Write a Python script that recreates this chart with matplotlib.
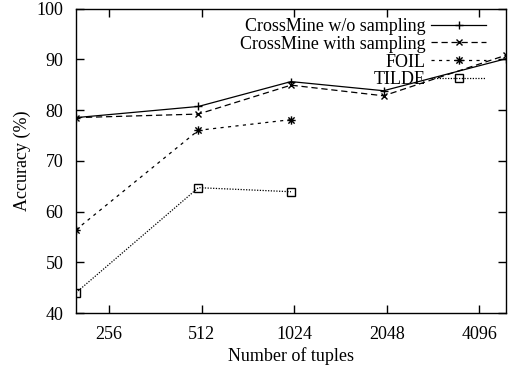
import matplotlib
matplotlib.use('Agg')
import matplotlib.pyplot as plt
from matplotlib.path import Path
from matplotlib.ticker import FixedLocator, FixedFormatter, NullLocator

tuples = [200, 500, 1000, 2000, 5000]
crossmine_plain = [78.5, 80.7, 85.6, 83.8, 90.1]
crossmine_sampled = [78.5, 79.2, 84.9, 82.8, 90.8]
foil_tuples = [200, 500, 1000]
foil = [56.4, 76.0, 78.1]
tilde_tuples = [200, 500, 1000]
tilde = [44.0, 64.7, 63.9]
xtick_vals = [256, 512, 1024, 2048, 4096]
xtick_labels = ['256', '512', '1024', '2048', '4096']

plt.rcParams['font.family'] = ['Liberation Serif', 'DejaVu Serif']
plt.rcParams['font.size'] = 13

# gnuplot-style asterisk: plus and cross together
star = Path([(-1, 0), (1, 0), (0, -1), (0, 1),
             (-.75, -.75), (.75, .75), (-.75, .75), (.75, -.75)],
            [Path.MOVETO, Path.LINETO] * 4)


def main():
    fig = plt.figure(figsize=(5.08, 3.70), dpi=100)
    ax = fig.add_axes([0.1496, 0.154, 0.8464, 0.823])

    lw = 0.9
    ax.plot(tuples, crossmine_plain, color='black', lw=lw, marker='+',
            ms=6, mew=1, label='CrossMine w/o sampling')
    ax.plot(tuples, crossmine_sampled, color='black', lw=lw, marker='x',
            ms=5, mew=1, dashes=(5, 3), label='CrossMine with sampling')
    ax.plot(foil_tuples, foil, color='black', lw=lw, marker=star,
            ms=6, mew=1, dashes=(2.5, 3.5), label='FOIL')
    ax.plot(tilde_tuples, tilde, color='black', lw=lw, marker='s',
            ms=5.5, mew=1, mfc='none', dashes=(1, 1.2), label='TILDE')

    ax.set_xscale('log', base=2)
    ax.set_xlim(200, 5000)
    ax.set_ylim(40, 100)
    ax.xaxis.set_major_locator(FixedLocator(xtick_vals))
    ax.xaxis.set_major_formatter(FixedFormatter(xtick_labels))
    ax.xaxis.set_minor_locator(NullLocator())
    ax.set_yticks(range(40, 101, 10))
    ax.tick_params(direction='in', length=6, width=1, top=True, right=True)
    ax.tick_params(axis='y', pad=9)
    ax.tick_params(axis='x', pad=9)
    for s in ax.spines.values():
        s.set_linewidth(1)

    ax.set_xlabel('Number of tuples', labelpad=3)
    ax.set_ylabel('Accuracy (%)', labelpad=4)

    leg = ax.legend(loc='upper right', bbox_to_anchor=(0.975, 1.0),
                    frameon=False, markerfirst=False, handlelength=3.0,
                    handletextpad=0.33, labelspacing=0.04, borderpad=0.53,
                    borderaxespad=0)
    leg.set_zorder(1)

    fig.savefig('out.png', dpi=100)


if __name__ == '__main__':
    main()
